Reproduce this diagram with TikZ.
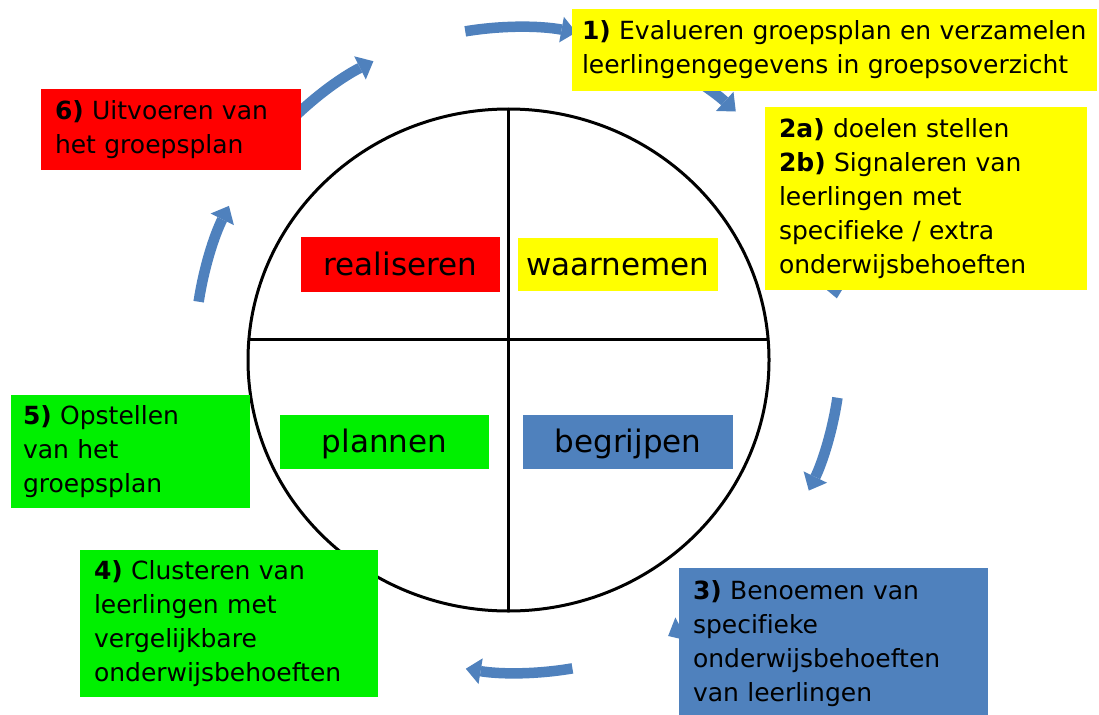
\documentclass[tikz,border=0pt]{standalone}
\usepackage{fontspec}
\setmainfont[Ligatures=NoCommon]{DejaVu Sans}
\usetikzlibrary{arrows.meta}
\definecolor{boxred}{HTML}{FF0000}
\definecolor{boxyellow}{HTML}{FFFF00}
\definecolor{boxgreen}{HTML}{00F000}
\definecolor{boxblue}{HTML}{4F81BD}
\definecolor{arrowblue}{HTML}{4F81BD}
\begin{document}
\begin{tikzpicture}[x=1pt,y=-1pt,
  ringarrow/.style={draw=arrowblue, line width=10.5pt, -{Triangle[length=15pt,width=26pt,line width=0pt]}},
  bx/.style={inner xsep=14pt, inner ysep=0pt, align=left, font=\fontsize{25}{34}\selectfont, text=black},
  lbl/.style={inner sep=0pt, align=center, font=\fontsize{31}{36}\selectfont, text=black, text height=26pt, text depth=5pt},
  ring/.style={line width=3pt, draw=black}
]
\fill[white] (0,0) rectangle (1099,714);
\useasboundingbox (0,0) rectangle (1099,714);

% central ellipse
\coordinate (ec) at (508.5,360);
\draw[ring] (ec) ellipse[x radius=260.5, y radius=251];
\coordinate (hl) at (240,339);
\coordinate (hr) at (780,339);
\coordinate (vt) at (508,100);
\coordinate (vb) at (508,620);
\begin{scope}
  \clip (ec) ellipse[x radius=260.5, y radius=251];
  \draw[ring] (hl) -- (hr);
  \draw[ring] (vt) -- (vb);
\end{scope}

% cycle arrows
\coordinate (rc) at (518,350);
\coordinate (a1) at ([shift={(-99.4:323)}]rc);
\coordinate (a2) at ([shift={(-136:323)}]rc);
\coordinate (a3) at ([shift={(188.6:323)}]rc);
\coordinate (a4) at ([shift={(80.3:323)}]rc);
\coordinate (a5) at ([shift={(45:323)}]rc);
\coordinate (a6) at ([shift={(8.5:323)}]rc);
\coordinate (a7) at ([shift={(-62:323)}]rc);
\coordinate (a8) at ([shift={(-25:323)}]rc);
\draw[ringarrow] (a1) arc[start angle=-99.4, end angle=-79.6, radius=323];
\draw[ringarrow] (a2) arc[start angle=-136, end angle=-116.6, radius=323];
\draw[ringarrow] (a3) arc[start angle=188.6, end angle=206.5, radius=323];
\draw[ringarrow] (a4) arc[start angle=80.3, end angle=99.3, radius=323];
\draw[ringarrow] (a5) arc[start angle=45, end angle=62.3, radius=323];
\draw[ringarrow] (a6) arc[start angle=8.5, end angle=25.8, radius=323];
\draw[ringarrow] (a7) arc[start angle=-62, end angle=-47.6, radius=323];
\draw[ringarrow] (a8) arc[start angle=-25, end angle=-9.2, radius=323];

% quadrant labels
\node[lbl, fill=boxred, minimum width=199pt, minimum height=55pt] (lr) at (400.5,264.5) {realiseren};
\node[lbl, fill=boxyellow, minimum width=200pt, minimum height=53pt] (lw) at (618,264.5) {waarnemen};
\node[lbl, fill=boxgreen, minimum width=209pt, minimum height=54pt] (lp) at (384.5,442) {plannen};
\node[lbl, fill=boxblue, minimum width=210pt, minimum height=54pt] (lb) at (628,442) {begrijpen};

% step boxes
\node[bx, fill=boxyellow, inner xsep=10pt, text width=505pt, minimum height=82pt] (b1) at (834.5,50)
  {\textbf{1)} Evalueren groepsplan en verzamelen\\leerlingengegevens in groepsoverzicht};
\node[bx, fill=boxyellow, text width=294pt, minimum height=183pt] (b2) at (926,198.5)
  {\textbf{2a)} doelen stellen\\\textbf{2b)} Signaleren van\\leerlingen met\\specifieke / extra\\onderwijsbehoeften};
\node[bx, fill=boxblue, text width=281pt, minimum height=152pt] (b3) at (833.5,644)
  {\textbf{3)} Benoemen van\\specifieke\\onderwijsbehoeften\\van leerlingen};
\node[bx, fill=boxgreen, text width=270pt, minimum height=147pt] (b4) at (229,623.5)
  {\textbf{4)} Clusteren van\\leerlingen met\\vergelijkbare\\onderwijsbehoeften};
\node[bx, fill=boxgreen, inner xsep=12pt, text width=215pt, minimum height=113pt] (b5) at (130.5,451.5)
  {\textbf{5)} Opstellen\\van het\\groepsplan};
\node[bx, fill=boxred, text width=232pt, minimum height=81pt] (b6) at (171,129.5)
  {\textbf{6)} Uitvoeren van\\het groepsplan};
\end{tikzpicture}
\end{document}
